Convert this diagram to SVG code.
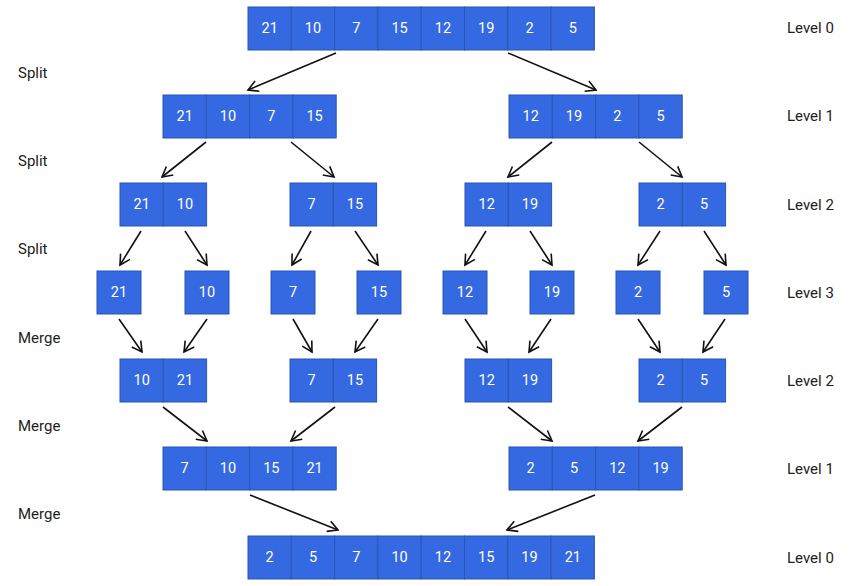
<svg xmlns="http://www.w3.org/2000/svg" width="855" height="586" viewBox="0 0 855 586">
<style>
.c{fill:#3469e1;stroke:#2a55b5;stroke-width:1}
.t{fill:#fff;font-family:Roboto,"Liberation Sans",sans-serif;font-size:14.5px;text-anchor:middle;dominant-baseline:central}
.lb{fill:#222;font-family:Roboto,"Liberation Sans",sans-serif;font-size:15px;dominant-baseline:central}
.a{stroke:#111;stroke-width:1.6;fill:none;marker-end:url(#ah)}
</style>
<defs>
<marker id="ah" markerUnits="userSpaceOnUse" markerWidth="14" markerHeight="14" viewBox="-12 -7 14 14" refX="0" refY="0" orient="auto">
<path d="M-10,-5.5 L0,0 L-10,5.5" fill="none" stroke="#111" stroke-width="1.6"/>
</marker>
</defs>
<rect width="855" height="586" fill="#fff"/>

<g id="L0">
<rect class="c" x="248" y="7" width="43.3" height="43"/><text class="t" x="269.7" y="28.5">21</text>
<rect class="c" x="291.3" y="7" width="43.3" height="43"/><text class="t" x="313" y="28.5">10</text>
<rect class="c" x="334.6" y="7" width="43.3" height="43"/><text class="t" x="356.3" y="28.5">7</text>
<rect class="c" x="377.9" y="7" width="43.3" height="43"/><text class="t" x="399.6" y="28.5">15</text>
<rect class="c" x="421.2" y="7" width="43.3" height="43"/><text class="t" x="442.9" y="28.5">12</text>
<rect class="c" x="464.5" y="7" width="43.3" height="43"/><text class="t" x="486.2" y="28.5">19</text>
<rect class="c" x="507.8" y="7" width="43.3" height="43"/><text class="t" x="529.5" y="28.5">2</text>
<rect class="c" x="551.1" y="7" width="43.3" height="43"/><text class="t" x="572.8" y="28.5">5</text>
</g>

<g id="L1a">
<rect class="c" x="163" y="95" width="43.3" height="43"/><text class="t" x="184.7" y="116.5">21</text>
<rect class="c" x="206.3" y="95" width="43.3" height="43"/><text class="t" x="228" y="116.5">10</text>
<rect class="c" x="249.6" y="95" width="43.3" height="43"/><text class="t" x="271.3" y="116.5">7</text>
<rect class="c" x="292.9" y="95" width="43.3" height="43"/><text class="t" x="314.6" y="116.5">15</text>
</g>
<g id="L1b">
<rect class="c" x="509" y="95" width="43.3" height="43"/><text class="t" x="530.7" y="116.5">12</text>
<rect class="c" x="552.3" y="95" width="43.3" height="43"/><text class="t" x="574" y="116.5">19</text>
<rect class="c" x="595.6" y="95" width="43.3" height="43"/><text class="t" x="617.3" y="116.5">2</text>
<rect class="c" x="638.9" y="95" width="43.3" height="43"/><text class="t" x="660.6" y="116.5">5</text>
</g>

<g id="L2a">
<rect class="c" x="120" y="183" width="43.3" height="43"/><text class="t" x="141.7" y="204.5">21</text>
<rect class="c" x="163.3" y="183" width="43.3" height="43"/><text class="t" x="185" y="204.5">10</text>
</g>
<g id="L2b">
<rect class="c" x="290" y="183" width="43.3" height="43"/><text class="t" x="311.7" y="204.5">7</text>
<rect class="c" x="333.3" y="183" width="43.3" height="43"/><text class="t" x="355" y="204.5">15</text>
</g>
<g id="L2c">
<rect class="c" x="465" y="183" width="43.3" height="43"/><text class="t" x="486.7" y="204.5">12</text>
<rect class="c" x="508.3" y="183" width="43.3" height="43"/><text class="t" x="530" y="204.5">19</text>
</g>
<g id="L2d">
<rect class="c" x="639" y="183" width="43.3" height="43"/><text class="t" x="660.7" y="204.5">2</text>
<rect class="c" x="682.3" y="183" width="43.3" height="43"/><text class="t" x="704" y="204.5">5</text>
</g>

<g id="L3a"><rect class="c" x="97" y="271" width="44" height="43"/><text class="t" x="119" y="292.5">21</text></g>
<g id="L3b"><rect class="c" x="185" y="271" width="44" height="43"/><text class="t" x="207" y="292.5">10</text></g>
<g id="L3c"><rect class="c" x="271" y="271" width="44" height="43"/><text class="t" x="293" y="292.5">7</text></g>
<g id="L3d"><rect class="c" x="357" y="271" width="44" height="43"/><text class="t" x="379" y="292.5">15</text></g>
<g id="L3e"><rect class="c" x="443" y="271" width="44" height="43"/><text class="t" x="465" y="292.5">12</text></g>
<g id="L3f"><rect class="c" x="530" y="271" width="44" height="43"/><text class="t" x="552" y="292.5">19</text></g>
<g id="L3g"><rect class="c" x="616" y="271" width="44" height="43"/><text class="t" x="638" y="292.5">2</text></g>
<g id="L3h"><rect class="c" x="704" y="271" width="44" height="43"/><text class="t" x="726" y="292.5">5</text></g>

<g id="M2a">
<rect class="c" x="120" y="359" width="43.3" height="43"/><text class="t" x="141.7" y="380.5">10</text>
<rect class="c" x="163.3" y="359" width="43.3" height="43"/><text class="t" x="185" y="380.5">21</text>
</g>
<g id="M2b">
<rect class="c" x="290" y="359" width="43.3" height="43"/><text class="t" x="311.7" y="380.5">7</text>
<rect class="c" x="333.3" y="359" width="43.3" height="43"/><text class="t" x="355" y="380.5">15</text>
</g>
<g id="M2c">
<rect class="c" x="465" y="359" width="43.3" height="43"/><text class="t" x="486.7" y="380.5">12</text>
<rect class="c" x="508.3" y="359" width="43.3" height="43"/><text class="t" x="530" y="380.5">19</text>
</g>
<g id="M2d">
<rect class="c" x="639" y="359" width="43.3" height="43"/><text class="t" x="660.7" y="380.5">2</text>
<rect class="c" x="682.3" y="359" width="43.3" height="43"/><text class="t" x="704" y="380.5">5</text>
</g>

<g id="M1a">
<rect class="c" x="163" y="447" width="43.3" height="43"/><text class="t" x="184.7" y="468.5">7</text>
<rect class="c" x="206.3" y="447" width="43.3" height="43"/><text class="t" x="228" y="468.5">10</text>
<rect class="c" x="249.6" y="447" width="43.3" height="43"/><text class="t" x="271.3" y="468.5">15</text>
<rect class="c" x="292.9" y="447" width="43.3" height="43"/><text class="t" x="314.6" y="468.5">21</text>
</g>
<g id="M1b">
<rect class="c" x="509" y="447" width="43.3" height="43"/><text class="t" x="530.7" y="468.5">2</text>
<rect class="c" x="552.3" y="447" width="43.3" height="43"/><text class="t" x="574" y="468.5">5</text>
<rect class="c" x="595.6" y="447" width="43.3" height="43"/><text class="t" x="617.3" y="468.5">12</text>
<rect class="c" x="638.9" y="447" width="43.3" height="43"/><text class="t" x="660.6" y="468.5">19</text>
</g>

<g id="M0">
<rect class="c" x="248" y="536" width="43.3" height="43"/><text class="t" x="269.7" y="557.5">2</text>
<rect class="c" x="291.3" y="536" width="43.3" height="43"/><text class="t" x="313" y="557.5">5</text>
<rect class="c" x="334.6" y="536" width="43.3" height="43"/><text class="t" x="356.3" y="557.5">7</text>
<rect class="c" x="377.9" y="536" width="43.3" height="43"/><text class="t" x="399.6" y="557.5">10</text>
<rect class="c" x="421.2" y="536" width="43.3" height="43"/><text class="t" x="442.9" y="557.5">12</text>
<rect class="c" x="464.5" y="536" width="43.3" height="43"/><text class="t" x="486.2" y="557.5">15</text>
<rect class="c" x="507.8" y="536" width="43.3" height="43"/><text class="t" x="529.5" y="557.5">19</text>
<rect class="c" x="551.1" y="536" width="43.3" height="43"/><text class="t" x="572.8" y="557.5">21</text>
</g>

<g id="connectors">
<line class="a" x1="336" y1="53" x2="248" y2="90"/>
<line class="a" x1="508" y1="53" x2="596" y2="90"/>
<line class="a" x1="206" y1="142" x2="162" y2="177"/>
<line class="a" x1="291" y1="142" x2="334" y2="177"/>
<line class="a" x1="552" y1="142" x2="508" y2="177"/>
<line class="a" x1="639" y1="142" x2="682" y2="177"/>
<line class="a" x1="141" y1="231" x2="120" y2="265"/>
<line class="a" x1="185" y1="231" x2="207" y2="265"/>
<line class="a" x1="311" y1="231" x2="292" y2="265"/>
<line class="a" x1="355" y1="231" x2="378" y2="265"/>
<line class="a" x1="486" y1="231" x2="465" y2="265"/>
<line class="a" x1="530" y1="231" x2="552" y2="265"/>
<line class="a" x1="660" y1="231" x2="638" y2="265"/>
<line class="a" x1="704" y1="231" x2="726" y2="265"/>
<line class="a" x1="119" y1="319" x2="142" y2="352"/>
<line class="a" x1="207" y1="319" x2="184" y2="352"/>
<line class="a" x1="293" y1="319" x2="312" y2="352"/>
<line class="a" x1="378" y1="319" x2="355" y2="352"/>
<line class="a" x1="465" y1="319" x2="487" y2="352"/>
<line class="a" x1="551" y1="319" x2="529" y2="352"/>
<line class="a" x1="638" y1="319" x2="660" y2="352"/>
<line class="a" x1="725" y1="319" x2="703" y2="352"/>
<line class="a" x1="163" y1="407" x2="207" y2="441"/>
<line class="a" x1="335" y1="407" x2="291" y2="441"/>
<line class="a" x1="508" y1="407" x2="552" y2="441"/>
<line class="a" x1="682" y1="407" x2="638" y2="441"/>
<line class="a" x1="250" y1="495" x2="338" y2="530"/>
<line class="a" x1="595" y1="495" x2="507" y2="530"/>
</g>

<g id="labels">
<text class="lb" x="18" y="73">Split</text>
<text class="lb" x="18" y="161">Split</text>
<text class="lb" x="18" y="249">Split</text>
<text class="lb" x="18" y="338">Merge</text>
<text class="lb" x="18" y="426">Merge</text>
<text class="lb" x="18" y="514">Merge</text>
<text class="lb" x="787" y="28">Level 0</text>
<text class="lb" x="787" y="116">Level 1</text>
<text class="lb" x="787" y="205">Level 2</text>
<text class="lb" x="787" y="293">Level 3</text>
<text class="lb" x="787" y="381">Level 2</text>
<text class="lb" x="787" y="469">Level 1</text>
<text class="lb" x="787" y="558">Level 0</text>
</g>
</svg>
